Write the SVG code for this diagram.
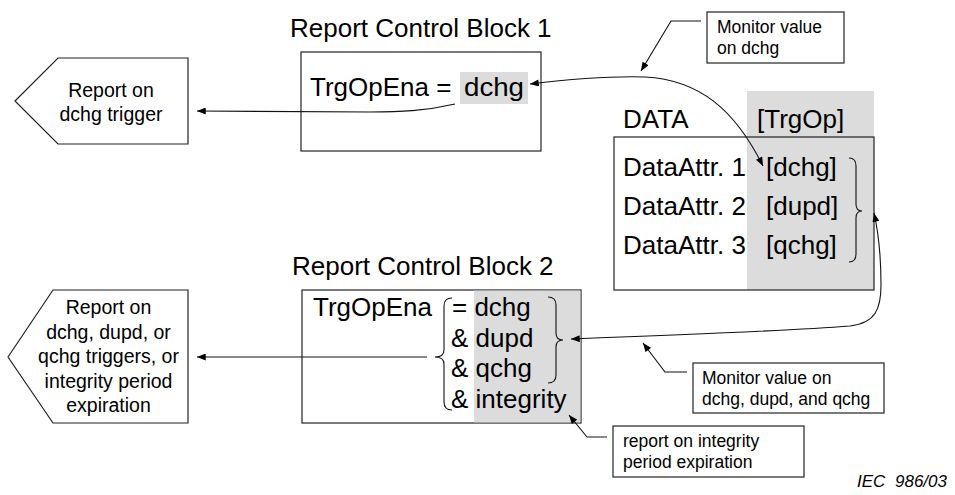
<svg xmlns="http://www.w3.org/2000/svg" width="955" height="495" viewBox="0 0 955 495">
<style>
text{font-family:"Liberation Sans",Arial,sans-serif;fill:#000}
.big{font-size:26px}
.mid{font-size:19.5px}
.sm{font-size:17.5px}
.iec{font-size:17px;font-style:italic}
.box{fill:#fff;stroke:#222;stroke-width:1.2}
.frame{fill:none;stroke:#222;stroke-width:1.2}
.gray{fill:#dcdcdc;stroke:none}
.ln{fill:none;stroke:#111;stroke-width:1.1}
.ar{marker-end:url(#ah)}
.dbl{marker-start:url(#ah);marker-end:url(#ah)}
</style>
<defs>
<marker id="ah" viewBox="0 0 10 8" refX="10" refY="4" markerWidth="10" markerHeight="7" orient="auto-start-reverse" markerUnits="userSpaceOnUse">
<path d="M0,0 L10,4 L0,8 z" fill="#000"/>
</marker>
</defs>

<g id="report1">
<polygon class="box" points="15,101 58,58 188,58 188,144 58,144"/>
<text class="mid" x="111" y="97" text-anchor="middle">Report on</text>
<text class="mid" x="111" y="121" text-anchor="middle">dchg trigger</text>
</g>

<g id="report2">
<polygon class="box" points="8,357 53,290 188,290 188,423 53,423"/>
<text class="mid" x="108.5" y="314" text-anchor="middle">Report on</text>
<text class="mid" x="108.5" y="338.5" text-anchor="middle">dchg, dupd, or</text>
<text class="mid" x="108.5" y="363" text-anchor="middle">qchg triggers, or</text>
<text class="mid" x="108.5" y="387.5" text-anchor="middle">integrity period</text>
<text class="mid" x="108.5" y="412" text-anchor="middle">expiration</text>
</g>

<g id="rcb1">
<text class="big" x="290" y="37">Report Control Block 1</text>
<rect class="box" x="301" y="52" width="240" height="99"/>
<rect class="gray" x="460" y="72" width="68" height="32"/>
<text class="big" x="310" y="96">TrgOpEna =</text>
<text class="big" x="464" y="96" textLength="60" lengthAdjust="spacingAndGlyphs">dchg</text>
</g>

<g id="data">
<rect class="gray" x="747" y="91" width="127" height="199"/>
<rect class="frame" x="614" y="137" width="260" height="153"/>
<text class="big" x="623" y="128">DATA</text>
<text class="big" x="757" y="128">[TrgOp]</text>
<text class="big" x="623" y="176">DataAttr. 1</text>
<text class="big" x="766" y="176">[dchg]</text>
<text class="big" x="623" y="215">DataAttr. 2</text>
<text class="big" x="766" y="215">[dupd]</text>
<text class="big" x="623" y="254">DataAttr. 3</text>
<text class="big" x="766" y="254">[qchg]</text>
<path class="ln" d="M849,158 Q856,158 856,166 L856,204 Q856,211 862,211 Q856,211 856,218 L856,254 Q856,262 849,262"/>
</g>

<g id="rcb2">
<text class="big" x="292" y="275">Report Control Block 2</text>
<rect class="box" x="302" y="290" width="279" height="133"/>
<rect class="gray" x="474" y="290.6" width="106.4" height="131.8"/>
<text class="big" x="313" y="316">TrgOpEna</text>
<text class="big" x="452" y="316">= dchg</text>
<text class="big" x="451" y="347">&amp; dupd</text>
<text class="big" x="451" y="377">&amp; qchg</text>
<text class="big" x="451" y="408">&amp; integrity</text>
<path class="ln" d="M452,298 Q444,298 444,306 L444,350 Q444,357 435,357 Q444,357 444,364 L444,402 Q444,410 452,410"/>
<path class="ln" d="M548,297 Q556,297 556,305 L556,333 Q556,340 563,340 Q556,340 556,347 L556,375 Q556,383 548,383"/>
</g>

<g id="note1">
<rect class="box" x="707" y="12" width="137" height="51"/>
<text class="sm" x="717" y="33">Monitor value</text>
<text class="sm" x="717" y="54">on dchg</text>
</g>

<g id="note2">
<rect class="box" x="693" y="363" width="191" height="50"/>
<text class="sm" x="702" y="384">Monitor value on</text>
<text class="sm" x="702" y="405">dchg, dupd, and qchg</text>
</g>

<g id="note3">
<rect class="box" x="613" y="426" width="191" height="51"/>
<text class="sm" x="623" y="447">report on integrity</text>
<text class="sm" x="623" y="468">period expiration</text>
</g>

<g id="connectors">
<path class="ln ar" d="M455,104 C425,111 400,112 370,112 L197,111"/>
<path class="ln ar" d="M427,357 L197,357"/>
<path class="ln dbl" d="M530,84 C580,78 610,76 645,77 C700,80 735,110 763,166"/>
<path class="ln dbl" d="M571,339 C680,335 800,330 850,326 C876,323 881,308 881,285 C881,255 879,235 874,213"/>
<path class="ln ar" d="M701,21 L671,21 L641,71"/>
<path class="ln ar" d="M687,372 L665,372 L643,343"/>
<path class="ln ar" d="M607,437 L587,437 L569,415"/>
</g>

<g id="footer">
<text class="iec" x="857" y="487">IEC</text>
<text class="iec" x="895" y="487">986/03</text>
</g>
</svg>
